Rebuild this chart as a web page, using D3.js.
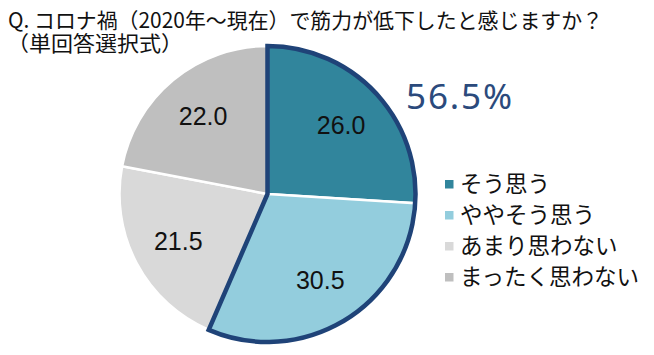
<!DOCTYPE html>
<html><head><meta charset="utf-8">
<script src="https://cdn.jsdelivr.net/npm/d3@7"></script>
<style>body{margin:0;background:#fff;}svg{display:block;}</style>
</head><body>
<svg id="c" width="654" height="355"></svg>
<script>
const categories = ["そう思う", "ややそう思う", "あまり思わない", "まったく思わない"];
const values = [26.0, 30.5, 21.5, 22.0];
const colors = ["#31859C", "#93CDDD", "#D9D9D9", "#BFBFBF"];
const titleLines = ["Q.  コロナ禍（2020年～現在）で筋力が低下したと感じますか？", "（単回答選択式）"];
const highlightLabel = "56.5%";
const highlightCount = 2;

const svg = d3.select("#c");
const cx = 267.5, cy = 194, r = 148;
const jp = "'Noto Sans CJK JP', 'Noto Sans', sans-serif";

const title = svg.append("text").attr("font-family", jp).attr("font-size", 21).attr("fill", "#111");
title.append("tspan").attr("x", 8).attr("y", 28)
  .attr("textLength", 595).attr("lengthAdjust", "spacingAndGlyphs").text(titleLines[0]);
title.append("tspan").attr("x", 7).attr("y", 51)
  .attr("textLength", 176).attr("lengthAdjust", "spacingAndGlyphs").text(titleLines[1]);

const pie = d3.pie().sort(null).value(d => d)(values);
const arc = d3.arc().innerRadius(0).outerRadius(r);
const g = svg.append("g").attr("transform", `translate(${cx},${cy})`);
g.selectAll("path.s").data(pie).join("path").attr("class", "s")
  .attr("d", arc).attr("fill", (d, i) => colors[i]).attr("stroke", "#fff").attr("stroke-width", 2.5);

// highlight outline around first slices
const hl = d3.arc().innerRadius(0).outerRadius(r)({startAngle: pie[0].startAngle, endAngle: pie[highlightCount - 1].endAngle});
g.append("path").attr("d", hl).attr("fill", "none").attr("stroke", "#1F4378").attr("stroke-width", 4.5).attr("stroke-linejoin", "miter");

const la = d3.arc().innerRadius(101).outerRadius(101);
g.selectAll("text.l").data(pie).join("text").attr("class", "l")
  .attr("transform", d => `translate(${la.centroid(d)})`)
  .attr("text-anchor", "middle").attr("dy", "0.36em")
  .attr("font-family", "'Liberation Sans', Arial, sans-serif").attr("font-size", 25).attr("fill", "#111")
  .text(d => d.data.toFixed(1));

svg.append("text").attr("x", 406).attr("y", 109).attr("font-family", "'Noto Sans', 'DejaVu Sans', sans-serif")
  .attr("font-size", 35).attr("fill", "#2B4A7C").attr("textLength", 106).attr("lengthAdjust", "spacing").text(highlightLabel);

const lg = svg.append("g");
const yScale = d3.scaleLinear().domain([0, 3]).range([184, 277]);
categories.forEach((c, i) => {
  lg.append("rect").attr("x", 445).attr("y", yScale(i) - 4).attr("width", 8.5).attr("height", 8.5).attr("fill", colors[i]);
  lg.append("text").attr("x", 460).attr("y", yScale(i)).attr("dy", "0.36em").attr("font-family", jp)
    .attr("font-size", 22.5).attr("fill", "#111").text(c);
});
</script>
</body></html>
